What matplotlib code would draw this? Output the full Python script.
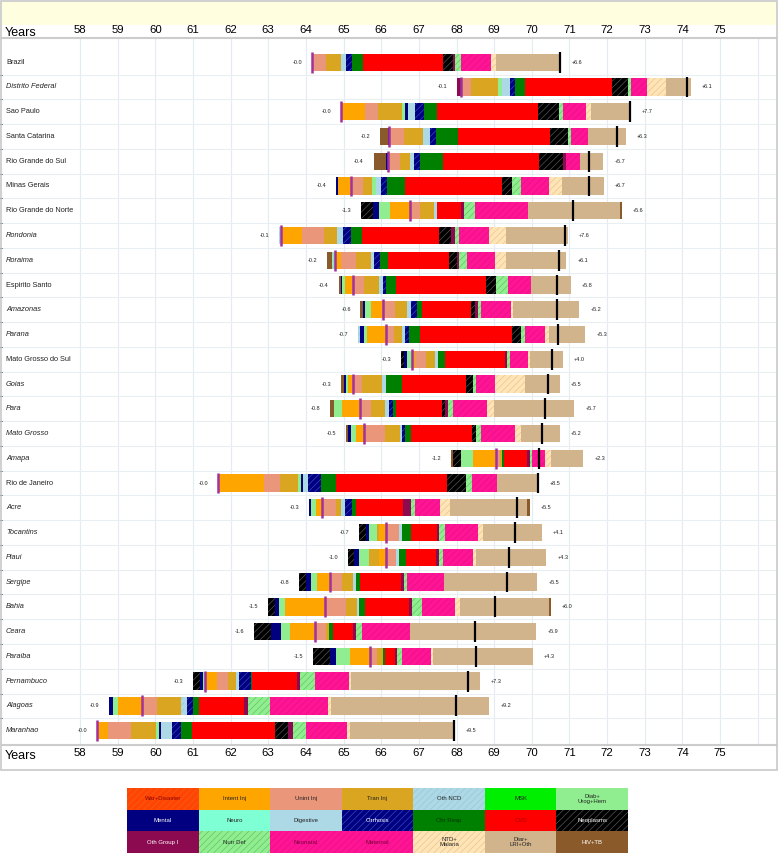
import numpy as np
import matplotlib
matplotlib.use("Agg")
from matplotlib import pyplot as plt
from matplotlib.patches import Rectangle

plt.rcParams["font.family"] = ["Liberation Sans", "DejaVu Sans"]
plt.rcParams["hatch.linewidth"] = 0.45

#%% data
states = ["Brazil", "Distrito Federal", "Sao Paulo", "Santa Catarina", "Rio Grande do Sul",
          "Minas Gerais", "Rio Grande do Norte", "Rondonia", "Roraima", "Espirito Santo",
          "Amazonas", "Parana", "Mato Grosso do Sul", "Goias", "Para", "Mato Grosso",
          "Amapa", "Rio de Janeiro", "Acre", "Tocantins", "Piaui", "Sergipe", "Bahia",
          "Ceara", "Paraiba", "Pernambuco", "Alagoas", "Maranhao"]
italic = [0, 1, 0, 0, 0, 0, 0, 1, 1, 0, 1, 1, 0, 1, 1, 1, 1, 0, 1, 1, 1, 1, 1, 1, 1, 1, 1, 1]

# life expectancy at start (purple line)
baseline = [64.16, 68.11, 64.94, 66.22, 66.18, 65.21, 66.76, 63.35, 64.78, 65.24, 66.05, 66.12,
            66.82, 65.24, 65.43, 65.55, 69.05, 61.66, 64.42, 66.14, 66.12, 64.63, 64.50, 64.23,
            65.69, 61.31, 59.66, 58.45]

# contributions (years) by cause, negative = loss
intent_inj = [0, 0, 0.62, 0, 0, -0.36, -0.52, 0.55, 0.14, -0.20, -0.33, -0.50, 0.07, -0.12,
              -0.48, -0.22, -0.62, 1.23, -0.14, -0.20, -0.19, -0.33, -1.05, -0.66, -0.52, 0.34,
              -0.66, 0.30]
unint_inj = [0.38, 0.27, 0.36, 0.38, 0.31, 0.31, 0.28, 0.59, 0.40, 0.31, 0.31, 0.22, 0.30, 0.25,
             0.30, 0.56, 0.10, 0.43, 0.38, 0.34, 0.27, 0.33, 0.57, 0.31, 0.20, 0.28, 0.38, 0.61]
tran_inj = [0.39, 0.73, 0.62, 0.52, 0.27, 0.24, 0.35, 0.34, 0.41, 0.38, 0.33, 0.21, 0.25, 0.52,
            0.36, 0.38, 0.05, 0.48, 0.14, -0.05, -0.25, 0.28, 0.29, 0.07, 0.15, 0.22, 0.64, 0.65]
diab = [0, 0.10, 0.09, 0, 0, 0.09, -0.30, 0, -0.05, -0.07, -0.15, -0.09, -0.13, -0.06, -0.20,
        -0.13, -0.31, 0.07, -0.15, -0.21, -0.28, -0.17, -0.16, -0.24, -0.36, -0.05, -0.12, 0.08]
mental = [0, 0, 0.07, -0.05, -0.06, -0.05, -0.17, 0, 0, -0.05, -0.06, -0.09, -0.08, -0.05, 0,
          -0.08, 0, 0.05, -0.05, -0.09, -0.12, -0.14, -0.12, -0.27, -0.17, -0.07, -0.10, 0.05]
oth_ncd = [0, 0, 0, 0, 0, 0, 0, -0.07, -0.04, 0, 0, -0.05, 0, 0, 0, 0, 0, 0, 0, 0, 0, 0, 0, 0,
           0, 0, 0.07, 0]
digestive = [0.13, 0.20, 0.19, 0.17, 0.11, 0.14, 0.08, 0.16, 0.09, 0.11, 0.11, 0.09, 0.07, 0.13,
             0.11, 0.07, 0, 0.14, 0.11, 0.07, 0.07, 0.08, 0.05, 0, 0, 0.08, 0.08, 0.30]
cirrhosis = [0.17, 0.14, 0.26, 0.16, 0.17, 0.16, 0, 0.22, 0.14, 0.09, 0.14, 0.09, 0, 0, 0.11,
             0.07, 0, 0.35, 0.17, 0, 0, 0, 0, 0, 0, 0.30, 0.18, 0.23]
chr_resp = [0.29, 0.28, 0.34, 0.59, 0.59, 0.47, 0, 0.27, 0.22, 0.27, 0.15, 0.30, 0.19, 0.41,
            0.09, 0.15, 0.07, 0.38, 0.12, 0.24, 0.19, 0.13, 0.16, 0.11, 0.05, 0.04, 0.14, 0.30]
cvd = [2.12, 2.30, 2.67, 2.44, 2.56, 2.59, 0.66, 2.05, 1.61, 2.39, 1.30, 2.44, 1.58, 1.70, 1.21,
       1.63, 0.60, 2.95, 1.25, 0.68, 0.80, 1.07, 1.16, 0.52, 0.28, 1.20, 1.20, 2.22]
neoplasms = [0.27, 0.43, 0.57, 0.47, 0.64, 0.27, -0.31, 0.32, 0.21, 0.27, 0.09, 0.24, -0.09,
             0.19, 0.08, 0.12, -0.21, 0.52, 0, -0.17, -0.16, -0.16, -0.17, -0.45, -0.46, -0.19,
             0, 0.34]
oth_group1 = [0.04, -0.10, 0, 0, 0.07, 0, 0.08, 0.10, 0.07, 0, 0.09, 0, 0.06, 0, 0.09, 0, 0.07,
              0, 0.21, 0.06, 0.08, 0.08, 0.08, 0.08, 0.05, 0.07, 0.10, 0.12]
nutr_def = [0.17, 0.07, 0.11, 0.08, 0, 0.24, 0.27, 0.11, 0.20, 0.30, 0.08, 0.12, 0.07, 0.09,
            0.14, 0.11, 0.06, 0.14, 0.09, 0.16, 0.11, 0.09, 0.28, 0.16, 0.13, 0.39, 0.59, 0.36]
neonatal = [0.80, 0.43, 0.60, 0.47, 0.38, 0.73, 1.42, 0.80, 0.76, 0.63, 0.80, 0.51, 0.49, 0.50,
            0.88, 0.92, 0.35, 0.68, 0.66, 0.88, 0.80, 0.97, 0.87, 1.28, 0.78, 0.91, 1.54, 1.07]
ntd_malaria = [0.14, 0.50, 0.14, 0, 0, 0.35, 0, 0.45, 0.28, 0, 0.06, 0.12, 0.06, 0.80, 0.19,
               0.15, 0.16, 0, 0.27, 0.13, 0.07, 0, 0.12, 0, 0.05, 0.05, 0.08, 0.08]
diar_lri = [1.70, 0.66, 1.04, 1.00, 0.62, 1.12, 2.44, 1.64, 1.61, 1.04, 1.75, 0.96, 0.87, 0.91,
            2.14, 1.04, 0.86, 1.09, 2.04, 1.57, 1.88, 2.49, 2.38, 3.36, 2.64, 3.43, 4.21, 2.78]
hiv_tb = [0, 0, 0, -0.19, -0.32, 0, 0.05, 0, -0.12, -0.05, -0.06, 0, 0, -0.08, -0.10, -0.05,
          -0.05, 0, 0.08, 0, 0, 0, 0.05, 0, 0, 0, 0, 0]

years = list(range(58, 76))

# style per cause: face colour, hatch, hatch colour
style = {
    "War+Disaster": ("#FF4500", "/////", "#F06030"),
    "Intent Inj": ("#FFA500", None, "#FFA500"),
    "Unint Inj": ("#E9967A", None, "#E9967A"),
    "Tran Inj": ("#DAA520", None, "#DAA520"),
    "Oth NCD": ("#ADD8E6", "/////", "#98C4D4"),
    "MSK": ("#00EE00", None, "#00EE00"),
    "Diab+\nUrog+Hem": ("#90EE90", None, "#90EE90"),
    "Mental": ("#000080", None, "#000080"),
    "Neuro": ("#7FFFD4", None, "#7FFFD4"),
    "Digestive": ("#ADD8E6", None, "#ADD8E6"),
    "Cirrhosis": ("#000080", "/////", "#3550C8"),
    "Chr Resp": ("#008000", None, "#008000"),
    "CVD": ("#FF0000", None, "#FF0000"),
    "Neoplasms": ("#000000", "/////", "#5A5A5A"),
    "Oth Group I": ("#8B0A50", None, "#8B0A50"),
    "Nutr Def": ("#90EE90", "/////", "#60C060"),
    "Neonatal": ("#FF1493", "/////", "#E2108A"),
    "Maternal": ("#FF1493", "/////", "#E2108A"),
    "NTD+\nMalaria": ("#FFE4B5", "/////", "#E2C48E"),
    "Diar+\nLRI+Oth": ("#D2B48C", None, "#D2B48C"),
    "HIV+TB": ("#8B5A2B", None, "#8B5A2B"),
}

causes = [("Intent Inj", intent_inj), ("Unint Inj", unint_inj), ("Tran Inj", tran_inj),
          ("Diab+\nUrog+Hem", diab), ("Mental", mental), ("Oth NCD", oth_ncd),
          ("Digestive", digestive), ("Cirrhosis", cirrhosis), ("Chr Resp", chr_resp),
          ("CVD", cvd), ("Neoplasms", neoplasms), ("Oth Group I", oth_group1),
          ("Nutr Def", nutr_def), ("Neonatal", neonatal), ("NTD+\nMalaria", ntd_malaria),
          ("Diar+\nLRI+Oth", diar_lri), ("HIV+TB", hiv_tb)]

#%% figure
W, H = 778, 855
fy = lambda px: 1 - px / H
fig = plt.figure(figsize=(W / 100, H / 100), dpi=100)

ax = fig.add_axes([2 / W, fy(745), 774 / W, (745 - 37.7) / H])
vals = np.array([v for _, v in causes], dtype=float)
neg = np.where(vals < 0, -vals, 0)
pos = np.where(vals > 0, vals, 0)
N = neg.sum(0)
P = pos.sum(0)
base = np.array(baseline)
y = np.arange(len(states))
bh = 0.7

cur = base - N
for k in reversed(range(len(causes))):
    fc, hatch, hc = style[causes[k][0]]
    ax.barh(y, neg[k], left=cur, height=bh, color=fc, hatch=hatch, edgecolor=hc, linewidth=0)
    cur = cur + neg[k]
cur = base.copy()
for k in range(len(causes)):
    fc, hatch, hc = style[causes[k][0]]
    ax.barh(y, pos[k], left=cur, height=bh, color=fc, hatch=hatch, edgecolor=hc, linewidth=0)
    cur = cur + pos[k]

ax.vlines(base, y - 0.42, y + 0.42, color="#A3309C", lw=1.8, zorder=4)
ax.vlines(base + P - N, y - 0.42, y + 0.42, color="black", lw=1.6, zorder=4)

for i in range(len(states)):
    ax.annotate("-{:.1f}".format(N[i]), (base[i] - N[i], y[i]), xytext=(-7, 0),
                textcoords="offset points", ha="right", va="center", fontsize=4, color="#222222")
    ax.annotate("+{:.1f}".format(P[i]), (base[i] + P[i], y[i]), xytext=(8, 0),
                textcoords="offset points", ha="left", va="center", fontsize=4, color="#222222")
    ax.text(4 / 774, y[i], states[i], transform=ax.get_yaxis_transform(), ha="left",
            va="center", fontsize=5.3, style="italic" if italic[i] else "normal", color="#222222")

ax.set_xlim(58 - 78 / 37.65, 58 + 696 / 37.65)
ax.set_ylim(27.58, -0.99)
ax.set_xticks(list(range(58, 77)))
ax.set_xticklabels([str(v) for v in years] + [""])
ax.set_yticks([])
ax.set_yticks(y[:-1] + 0.5, minor=True)
ax.tick_params(axis="x", which="both", length=0, labelsize=8.2, labeltop=True, labelbottom=True,
               colors="black")
ax.tick_params(axis="x", which="major", pad=2)
ax.grid(axis="x", color="#E3ECF2", lw=0.8)
ax.grid(axis="y", which="minor", color="#E8EEF2", lw=0.8)
ax.set_axisbelow(True)
for s in ["left", "right"]:
    ax.spines[s].set_visible(False)
for s in ["top", "bottom"]:
    ax.spines[s].set_color("#CCCCCC")
    ax.spines[s].set_linewidth(1.5)

fig.text(5 / W, fy(33), "Years", fontsize=9, va="center", ha="left")
fig.text(5 / W, fy(756), "Years", fontsize=9, va="center", ha="left")

fig.add_artist(Rectangle((2 / W, fy(25)), 774 / W, 23 / H, transform=fig.transFigure,
                         facecolor="#FFFFE0", edgecolor="none", zorder=0))
fig.add_artist(Rectangle((1 / W, fy(770)), 776 / W, 769 / H, transform=fig.transFigure,
                         fill=False, edgecolor="#C8C8C8", lw=1.2))

#%% legend table
leg = [["War+Disaster", "Intent Inj", "Unint Inj", "Tran Inj", "Oth NCD", "MSK", "Diab+\nUrog+Hem"],
       ["Mental", "Neuro", "Digestive", "Cirrhosis", "Chr Resp", "CVD", "Neoplasms"],
       ["Oth Group I", "Nutr Def", "Neonatal", "Maternal", "NTD+\nMalaria", "Diar+\nLRI+Oth", "HIV+TB"]]
leg_text = {"War+Disaster": "#8B0000", "Mental": "white", "Cirrhosis": "white",
            "Chr Resp": "#003300", "CVD": "#B00000", "Neoplasms": "white",
            "Oth Group I": "white", "Neonatal": "#7A0040", "Maternal": "#7A0040", "HIV+TB": "white"}
lax = fig.add_axes([127 / W, fy(853), 501 / W, 65 / H])
for r, row in enumerate(leg):
    for c, name in enumerate(row):
        fc, hatch, hc = style[name]
        lax.bar(c + 0.5, 1, bottom=r, width=1, color=fc, hatch=hatch, edgecolor=hc, linewidth=0)
        lax.text(c + 0.5, r + 0.5, name, ha="center", va="center", fontsize=4.3,
                 color=leg_text.get(name, "#222222"), linespacing=0.95)
lax.set_xlim(0, 7)
lax.set_ylim(3, 0)
lax.axis("off")

fig.savefig("out.png", dpi=100)
